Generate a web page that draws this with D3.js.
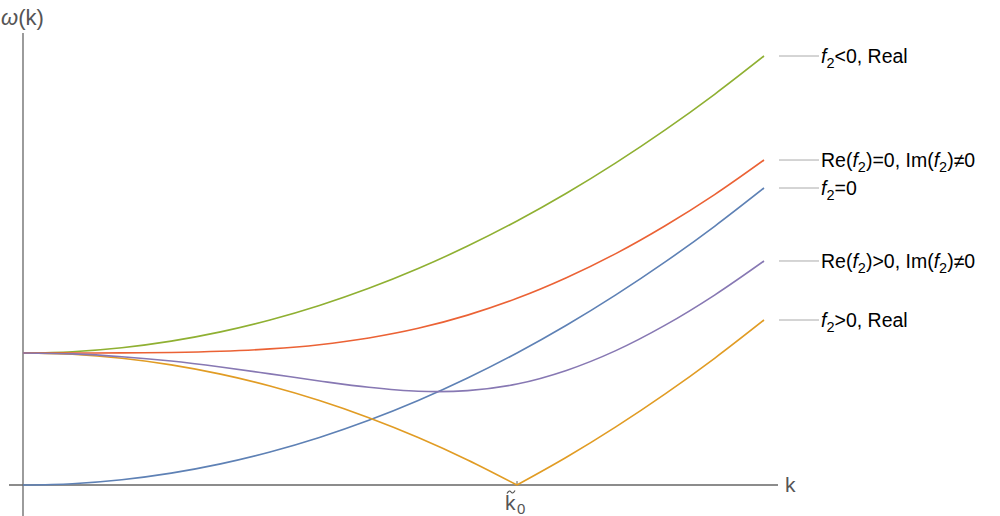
<!DOCTYPE html>
<html><head><meta charset="utf-8">
<script src="https://cdn.jsdelivr.net/npm/d3@7"></script>
<style>
body{margin:0;background:#fff;}
svg{display:block;}
</style></head>
<body>
<svg id="c" width="1000" height="516"></svg>
<script>
// k sample positions (k̃0 = 2)
const kVals = [0,0.2,0.4,0.6,0.8,1.0,1.2,1.4,1.6,1.8,2.0,2.2,2.4,2.6,2.8,3.0];
const k0 = 2;
// ω(k) values
const wZero   = [0,0.01,0.04,0.09,0.16,0.25,0.36,0.49,0.64,0.81,1.00,1.21,1.44,1.69,1.96,2.25];          // f2=0
const wPosReal= [1,0.99,0.96,0.91,0.84,0.75,0.64,0.51,0.36,0.19,0.00,0.21,0.44,0.69,0.96,1.25];          // f2>0, Real
const wNegReal= [1,1.01,1.04,1.09,1.16,1.25,1.36,1.49,1.64,1.81,2.00,2.21,2.44,2.69,2.96,3.25];          // f2<0, Real
const wReZero = [1,1.000,1.001,1.004,1.013,1.031,1.063,1.114,1.187,1.287,1.414,1.570,1.753,1.964,2.200,2.462]; // Re(f2)=0
const wRePos  = [1,0.993,0.972,0.939,0.894,0.842,0.788,0.740,0.710,0.715,0.765,0.868,1.018,1.211,1.439,1.697]; // Re(f2)>0

const colors = ["#5E81B5","#E19C24","#8FB032","#EB6235","#8778B3"];

const svg = d3.select("#c");
const x = d3.scaleLinear().domain([0,3]).range([23,764]);
const y = d3.scaleLinear().domain([0,1]).range([485,353]);

// axes
const axisColor = "#666";
svg.append("line").attr("x1",9).attr("x2",778).attr("y1",y(0)).attr("y2",y(0))
  .attr("stroke",axisColor).attr("stroke-width",1.3);
svg.append("line").attr("x1",x(0)).attr("x2",x(0)).attr("y1",33).attr("y2",516)
  .attr("stroke",axisColor).attr("stroke-width",1.3);
// tick at k0
svg.append("line").attr("x1",x(k0)).attr("x2",x(k0)).attr("y1",y(0)).attr("y2",y(0)-4)
  .attr("stroke",axisColor).attr("stroke-width",1);

const font = "'Liberation Sans', Arial, sans-serif";
// axis labels
const wl = svg.append("text").attr("x",1).attr("y",25).attr("font-family",font).attr("font-size",22)
  .attr("fill","#555");
wl.append("tspan").attr("font-style","italic").text("ω");
wl.append("tspan").text("(k)");
svg.append("text").attr("x",785).attr("y",492).attr("font-family",font).attr("font-size",21)
  .attr("fill","#555").text("k");
svg.append("text").attr("x",x(k0)-12).attr("y",510).attr("font-family",font)
  .attr("font-size",21).attr("fill","#555").text("k");
// tilde over k
const tx = x(k0)-6, ty = 492;
svg.append("path")
  .attr("d",`M${tx-4},${ty+1.5} C${tx-2.5},${ty-1.5} ${tx-1},${ty-1.5} ${tx},${ty} S${tx+2.5},${ty+1.5} ${tx+4},${ty-1.5}`)
  .attr("fill","none").attr("stroke","#555").attr("stroke-width",1.2);
svg.append("text").attr("x",x(k0)+0).attr("y",514).attr("font-family",font)
  .attr("font-size",15).attr("fill","#555").text("0");

const line = d3.line().x(d=>x(d[0])).y(d=>y(d[1])).curve(d3.curveCatmullRom.alpha(0.5));
function draw(vals,color,filt){
  const pts = kVals.map((k,i)=>[k,vals[i]]).filter(filt||(()=>true));
  svg.append("path").attr("d",line(pts)).attr("fill","none").attr("stroke",color).attr("stroke-width",1.6);
}
draw(wZero,colors[0]);
draw(wPosReal,colors[1],d=>d[0]<=k0);
draw(wPosReal,colors[1],d=>d[0]>=k0);
draw(wNegReal,colors[2]);
draw(wReZero,colors[3]);
draw(wRePos,colors[4]);

// labels with leader lines
const labelData = [
  {v:wNegReal[wNegReal.length-1], parts:[["f",true],["2",false,true],["<0, Real"]]},
  {v:wReZero[wReZero.length-1], parts:[["Re("],["f",true],["2",false,true],[")=0, Im("],["f",true],["2",false,true],[")≠0"]]},
  {v:wZero[wZero.length-1], parts:[["f",true],["2",false,true],["=0"]]},
  {v:wRePos[wRePos.length-1], parts:[["Re("],["f",true],["2",false,true],[")>0, Im("],["f",true],["2",false,true],[")≠0"]]},
  {v:wPosReal[wPosReal.length-1], parts:[["f",true],["2",false,true],[">0, Real"]]}
];
labelData.forEach(L=>{
  const yy = y(L.v);
  svg.append("line").attr("x1",779).attr("x2",819).attr("y1",yy).attr("y2",yy)
    .attr("stroke","#aaa").attr("stroke-width",1);
  const t = svg.append("text").attr("x",821).attr("y",yy+7).attr("font-family",font)
    .attr("font-size",19.5).attr("fill","#000");
  let sub=false;
  L.parts.forEach(p=>{
    const ts = t.append("tspan").text(p[0]);
    if(p[1]) ts.attr("font-style","italic");
    if(p[2]){ ts.attr("font-size",14.5).attr("dy",5); sub=true; }
    else if(sub){ ts.attr("dy",-5); sub=false; }
  });
});
</script>
</body></html>
